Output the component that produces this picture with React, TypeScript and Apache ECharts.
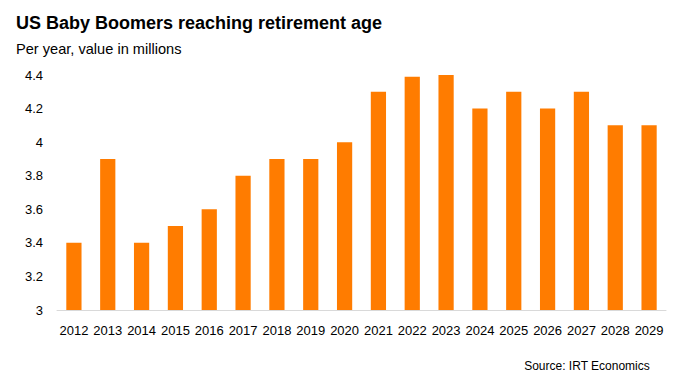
import React, { useEffect, useRef } from "react";
import * as echarts from "echarts";

const years = ["2012","2013","2014","2015","2016","2017","2018","2019","2020","2021","2022","2023","2024","2025","2026","2027","2028","2029"];
const boomers = [3.4, 3.9, 3.4, 3.5, 3.6, 3.8, 3.9, 3.9, 4.0, 4.3, 4.39, 4.41, 4.2, 4.3, 4.2, 4.3, 4.1, 4.1];
const title = "US Baby Boomers reaching retirement age";
const subtitle = "Per year, value in millions";
const source = "Source: IRT Economics";

export default function App() {
  const ref = useRef<HTMLDivElement>(null);
  useEffect(() => {
    if (!ref.current) return;
    const chart = echarts.init(ref.current, null, { renderer: "svg" });
    const font = "'Liberation Sans', Arial, sans-serif";
    chart.setOption({
      animation: false,
      backgroundColor: "#ffffff",
      textStyle: { fontFamily: font },
      title: [
        { text: title, left: 11, top: 9, textStyle: { fontFamily: font, fontSize: 18, fontWeight: "bold", color: "#000" } },
        { text: subtitle, left: 11, top: 36, textStyle: { fontFamily: font, fontSize: 14.6, fontWeight: "normal", color: "#000" } },
        { text: source, right: 27, top: 355, textStyle: { fontFamily: font, fontSize: 12, fontWeight: "normal", color: "#000" } },
      ],
      grid: { left: 57, right: 16, top: 75, bottom: 69, containLabel: false },
      xAxis: {
        type: "category",
        data: years,
        axisTick: { show: false },
        axisLine: { lineStyle: { color: "#d9d9d9", width: 1 } },
        axisLabel: { color: "#000", fontSize: 13, fontFamily: font, margin: 14, interval: 0 },
      },
      yAxis: {
        type: "value",
        min: 3,
        max: 4.4,
        interval: 0.2,
        splitLine: { show: false },
        axisLine: { show: false },
        axisTick: { show: false },
        axisLabel: { color: "#000", fontSize: 13, fontFamily: font, margin: 14, padding: [6, 0, 0, 0] },
      },
      series: [
        {
          type: "bar",
          data: boomers,
          barWidth: "45%",
          itemStyle: { color: "#FF7C00" },
        },
      ],
    });
    return () => chart.dispose();
  }, []);
  return <div ref={ref} style={{ position: "fixed", left: 0, top: 0, width: 682, height: 379 }} />;
}
